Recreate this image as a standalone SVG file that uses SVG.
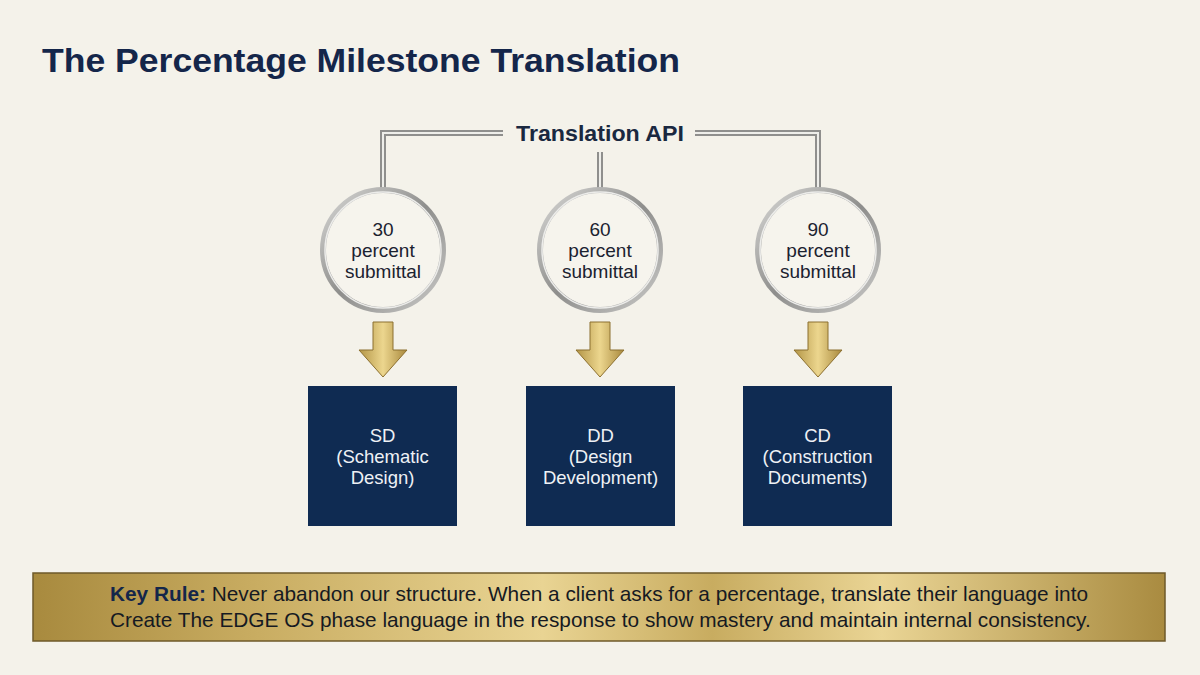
<svg xmlns="http://www.w3.org/2000/svg" width="1200" height="675" viewBox="0 0 1200 675">
<defs>
<linearGradient id="gold" x1="0" y1="0" x2="1" y2="0">
<stop offset="0" stop-color="#b39546"/>
<stop offset="0.5" stop-color="#ecd68e"/>
<stop offset="1" stop-color="#a9893d"/>
</linearGradient>
<linearGradient id="band" x1="0" y1="0" x2="1" y2="0">
<stop offset="0" stop-color="#a88a3e"/>
<stop offset="0.2" stop-color="#c9ad62"/>
<stop offset="0.45" stop-color="#e9d493"/>
<stop offset="0.6" stop-color="#c8ac60"/>
<stop offset="0.75" stop-color="#ead595"/>
<stop offset="1" stop-color="#a98b40"/>
</linearGradient>
<linearGradient id="ring" x1="0" y1="0" x2="1" y2="1">
<stop offset="0" stop-color="#d8d8d6"/>
<stop offset="0.5" stop-color="#8e8e8c"/>
<stop offset="1" stop-color="#c9c9c7"/>
</linearGradient>
<style>
.pipeO{fill:none;stroke:#8f8f8d;stroke-width:6}
.pipeI{fill:none;stroke:#eeeeea;stroke-width:2}
.ringO{fill:#f6f4ed;stroke:url(#ring);stroke-width:6}
.ringI{fill:none;stroke:#ececea;stroke-width:1.5}
.ctext{font-family:"Liberation Sans",Arial,sans-serif;font-size:19px;fill:#1b2230;text-anchor:middle}
.box{fill:#0f2b52}
.btext{font-family:"Liberation Sans",Arial,sans-serif;font-size:18.5px;fill:#eef1f5;text-anchor:middle}
.arrow{fill:url(#gold);stroke:#8c7030;stroke-width:1}
</style>
</defs>
<rect width="1200" height="675" fill="#f4f2ea"/>
<text x="42" y="72" font-family="Liberation Sans,Arial,sans-serif" font-weight="bold" font-size="34" fill="#14264a" textLength="638" lengthAdjust="spacingAndGlyphs">The Percentage Milestone Translation</text>

<g id="connectors">
<path class="pipeO" d="M503 133 H383 V188"/>
<path class="pipeI" d="M503 133 H383 V188"/>
<path class="pipeO" d="M600 152 V188"/>
<path class="pipeI" d="M600 152 V188"/>
<path class="pipeO" d="M695 133 H818 V188"/>
<path class="pipeI" d="M695 133 H818 V188"/>
<polygon class="arrow" points="373,322 393,322 393,350 407,350 383,377 359,350 373,350"/>
<polygon class="arrow" points="590,322 610,322 610,350 624,350 600,377 576,350 590,350"/>
<polygon class="arrow" points="808,322 828,322 828,350 842,350 818,377 794,350 808,350"/>
</g>

<g id="api">
<text x="600" y="141" font-family="Liberation Sans,Arial,sans-serif" font-weight="bold" font-size="22" fill="#1a2840" text-anchor="middle" textLength="168" lengthAdjust="spacingAndGlyphs">Translation API</text>
</g>

<g id="c30">
<circle class="ringO" cx="383" cy="250" r="60"/>
<circle class="ringI" cx="383" cy="250" r="58"/>
<text class="ctext" x="383" y="236">30</text>
<text class="ctext" x="383" y="257">percent</text>
<text class="ctext" x="383" y="278">submittal</text>
</g>
<g id="c60">
<circle class="ringO" cx="600" cy="250" r="60"/>
<circle class="ringI" cx="600" cy="250" r="58"/>
<text class="ctext" x="600" y="236">60</text>
<text class="ctext" x="600" y="257">percent</text>
<text class="ctext" x="600" y="278">submittal</text>
</g>
<g id="c90">
<circle class="ringO" cx="818" cy="250" r="60"/>
<circle class="ringI" cx="818" cy="250" r="58"/>
<text class="ctext" x="818" y="236">90</text>
<text class="ctext" x="818" y="257">percent</text>
<text class="ctext" x="818" y="278">submittal</text>
</g>

<g id="sd">
<rect class="box" x="308" y="386" width="149" height="140"/>
<text class="btext" x="382.5" y="442">SD</text>
<text class="btext" x="382.5" y="463">(Schematic</text>
<text class="btext" x="382.5" y="484">Design)</text>
</g>
<g id="dd">
<rect class="box" x="526" y="386" width="149" height="140"/>
<text class="btext" x="600.5" y="442">DD</text>
<text class="btext" x="600.5" y="463">(Design</text>
<text class="btext" x="600.5" y="484">Development)</text>
</g>
<g id="cd">
<rect class="box" x="743" y="386" width="149" height="140"/>
<text class="btext" x="817.5" y="442">CD</text>
<text class="btext" x="817.5" y="463">(Construction</text>
<text class="btext" x="817.5" y="484">Documents)</text>
</g>

<g id="rule">
<rect x="33" y="573" width="1132" height="68" fill="url(#band)" stroke="#6e5a2a" stroke-width="1.5"/>
<text font-family="Liberation Sans,Arial,sans-serif" font-size="20.8" fill="#161a22">
<tspan x="110" y="601"><tspan font-weight="bold" fill="#14264a">Key Rule:</tspan> Never abandon our structure. When a client asks for a percentage, translate their language into</tspan>
<tspan x="110" y="627">Create The EDGE OS phase language in the response to show mastery and maintain internal consistency.</tspan>
</text>
</g>
</svg>
